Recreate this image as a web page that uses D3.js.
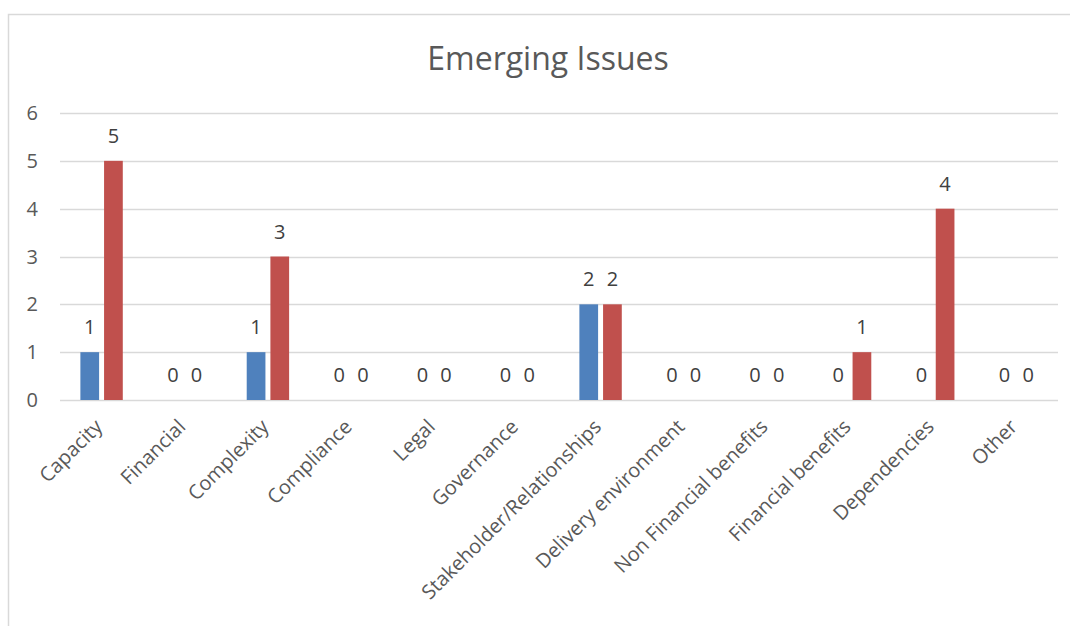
<!DOCTYPE html>
<html lang="en">
<head>
  <meta charset="UTF-8">
  <title>Emerging Issues</title>
  <script src="https://d3js.org/d3.v7.min.js"></script>
  <style>
    body { margin: 0; background: #fff; font-family: "Open Sans", sans-serif; }
    .grid line { stroke: #d9d9d9; stroke-width: 1.3px; }
    .tick-label { fill: #595959; font-size: 20px; }
    .data-label { fill: #404040; font-size: 20px; }
  </style>
</head>
<body>
  <svg width="1070" height="626"></svg>

  <script>
    // categories and the two series
    const categories = ["Capacity", "Financial", "Complexity", "Compliance", "Legal", "Governance",
      "Stakeholder/Relationships", "Delivery environment", "Non Financial benefits",
      "Financial benefits", "Dependencies", "Other"];
    const seriesNames = ["Series 1", "Series 2"];
    const series1 = [1, 0, 1, 0, 0, 0, 2, 0, 0, 0, 0, 0];
    const series2 = [5, 0, 3, 0, 0, 0, 2, 0, 0, 1, 4, 0];
    const yTicks = [0, 1, 2, 3, 4, 5, 6];
    const colors = ["#4f81bd", "#c0504d"];

    const svg = d3.select("svg");

    // chart frame
    svg.append("rect")
      .attr("x", 8.5).attr("y", 14.5)
      .attr("width", 1080).attr("height", 640)
      .attr("fill", "none")
      .attr("stroke", "#d9d9d9")
      .attr("stroke-width", 1.5);

    const plot = { left: 60, right: 1058, top: 113, bottom: 400 };

    const x = d3.scaleBand()
      .domain(categories)
      .range([plot.left, plot.right]);

    const x1 = d3.scaleBand()
      .domain(seriesNames)
      .range([-21.2, 21.2])
      .paddingInner(0.21);

    const y = d3.scaleLinear()
      .domain([0, 6])
      .range([plot.bottom, plot.top]);

    // title
    svg.append("text")
      .attr("x", 548)
      .attr("y", 70)
      .attr("text-anchor", "middle")
      .attr("fill", "#595959")
      .attr("font-size", 32)
      .text("Emerging Issues");

    // gridlines
    svg.append("g")
      .attr("class", "grid")
      .selectAll("line")
      .data(yTicks)
      .join("line")
      .attr("x1", plot.left)
      .attr("x2", plot.right)
      .attr("y1", d => Math.round(y(d)) + 0.5)
      .attr("y2", d => Math.round(y(d)) + 0.5);

    // y tick labels
    svg.append("g")
      .selectAll("text")
      .data(yTicks)
      .join("text")
      .attr("class", "tick-label")
      .attr("x", 38)
      .attr("y", d => y(d))
      .attr("dy", "0.35em")
      .attr("text-anchor", "end")
      .text(d => d);

    const rows = categories.map((c, i) => ({
      cat: c,
      vals: [series1[i], series2[i]]
    }));

    const groups = svg.append("g")
      .selectAll("g")
      .data(rows)
      .join("g")
      .attr("transform", d => `translate(${x(d.cat) + x.bandwidth() / 2},0)`);

    groups.selectAll("rect")
      .data(d => d.vals.map((v, k) => ({ v, k })))
      .join("rect")
      .attr("x", d => x1(seriesNames[d.k]))
      .attr("width", x1.bandwidth())
      .attr("y", d => y(d.v))
      .attr("height", d => y(0) - y(d.v))
      .attr("fill", d => colors[d.k]);

    groups.selectAll("text")
      .data(d => d.vals.map((v, k) => ({ v, k })))
      .join("text")
      .attr("class", "data-label")
      .attr("x", d => x1(seriesNames[d.k]) + x1.bandwidth() / 2)
      .attr("y", d => y(d.v) - 18)
      .attr("text-anchor", "middle")
      .text(d => d.v);

    // category labels, rotated
    svg.append("g")
      .selectAll("text")
      .data(categories)
      .join("text")
      .attr("class", "tick-label")
      .attr("text-anchor", "end")
      .attr("transform", d => `translate(${x(d) + x.bandwidth() / 2 + 2},428) rotate(-45)`)
      .text(d => d);
  </script>
</body>
</html>
